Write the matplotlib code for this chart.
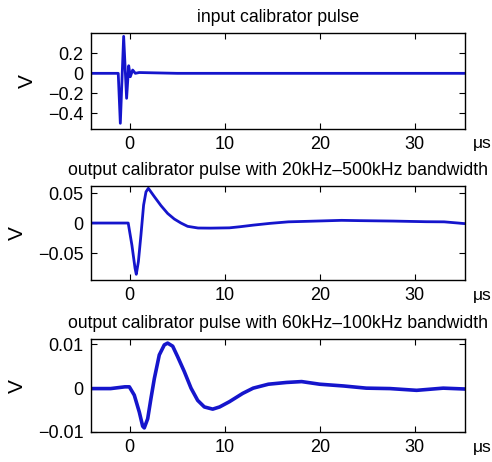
import matplotlib
matplotlib.use("Agg")
import matplotlib.pyplot as plt

plt.rcParams['font.family'] = ['Liberation Sans', 'DejaVu Sans']

# time in microseconds, voltage in V
t_in = [-4.1, -2.5, -1.2, -0.98, -0.63, -0.32, -0.1, 0.07, 0.32, 0.6, 1.0, 5, 15, 25, 35.3]
v_in = [0.0, 0.0, 0.0, -0.50, 0.37, -0.25, 0.076, -0.034, 0.033, 0.0, 0.008, 0.0, 0.0, 0.0, 0.0]

t_out1 = [-4.1, -0.15, 0.24, 0.57, 0.70, 0.92, 1.19, 1.47, 1.72, 1.97, 2.6, 3.3, 4.0, 4.7,
          5.4, 6.1, 7.2, 8.5, 10.5, 11.6, 13.0, 14.8, 16.7, 19.0, 22.3, 24.2, 27.7, 31.2,
          33.1, 35.3]
v_out1 = [0.0, 0.0, -0.037, -0.0755, -0.0855, -0.0645, -0.02, 0.03, 0.052, 0.058, 0.044,
          0.029, 0.016, 0.0067, 0.0, -0.0055, -0.0083, -0.0085, -0.008, -0.0062, -0.0035,
          -0.0005, 0.002, 0.003, 0.0045, 0.004, 0.0033, 0.0022, 0.002, -0.001]

t_out2 = [-4.1, -2.0, -0.5, -0.03, 0.49, 1.02, 1.37, 1.54, 1.9, 2.24, 2.6, 3.12, 3.65, 4.0,
          4.53, 5.05, 5.75, 6.46, 7.16, 7.86, 8.74, 9.47, 10.5, 11.9, 13.0, 14.6, 16.5,
          18.1, 20.0, 22.5, 24.9, 27.4, 30.2, 33.0, 35.3]
v_out2 = [-0.0001, -0.0001, 0.0003, 0.0003, -0.0016, -0.0055, -0.0087, -0.0091, -0.007,
          -0.0024, 0.0022, 0.0076, 0.0099, 0.0103, 0.0096, 0.0072, 0.0038, 0.0, -0.0028,
          -0.0043, -0.0048, -0.0043, -0.0031, -0.0012, 0.0, 0.0009, 0.0013, 0.0015, 0.0009,
          0.0005, 0.0, -0.0001, -0.0005, 0.0, -0.0002]

titles = ['input calibrator pulse',
          'output calibrator pulse with 20kHz\u2013500kHz bandwidth',
          'output calibrator pulse with 60kHz\u2013100kHz bandwidth']
yticks = [[0.2, 0, -0.2, -0.4], [0.05, 0, -0.05], [0.01, 0, -0.01]]
yticklabels = [['0.2', '0', '\u22120.2', '\u22120.4'],
               ['0.05', '0', '\u22120.05'],
               ['0.01', '0', '\u22120.01']]
ylims = [(-0.557, 0.40), (-0.0955, 0.0617), (-0.0101, 0.01125)]
xticks = [0, 10, 20, 30]

fig = plt.figure(figsize=(4.92, 4.62), dpi=100)
boxes = [[0.1843, 0.7208, 0.761, 0.207],
         [0.1843, 0.3933, 0.761, 0.204],
         [0.1843, 0.0643, 0.761, 0.202]]
data = [(t_in, v_in, 2.0), (t_out1, v_out1, 2.0), (t_out2, v_out2, 2.6)]

for i in range(3):
    ax = fig.add_axes(boxes[i])
    t, v, lw = data[i]
    ax.plot(t, v, color='#1515cc', lw=lw)
    ax.set_xlim(-4.1, 35.3)
    ax.set_ylim(*ylims[i])
    ax.set_xticks(xticks)
    ax.set_xticklabels([str(x) for x in xticks])
    ax.set_yticks(yticks[i])
    ax.set_yticklabels(yticklabels[i])
    ax.tick_params(direction='in', length=4, width=0.8, top=True, right=True,
                   labelsize=13, pad=5)
    ax.set_title(titles[i], fontsize=12.7, pad=8)
    ax.set_ylabel('V', fontsize=15, labelpad=8)
    ax.annotate('\u03bcs', xy=(1, 0), xycoords='axes fraction', xytext=(17, -15),
                textcoords='offset pixels', ha='center', va='center', fontsize=12.5)
    for s in ax.spines.values():
        s.set_linewidth(1.0)

fig.savefig('out.png', dpi=100)
